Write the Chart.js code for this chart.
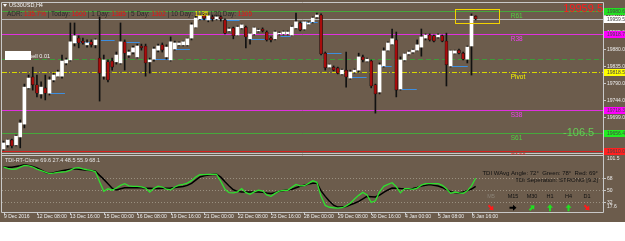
<!DOCTYPE html>
<html><head><meta charset="utf-8">
<script src="https://cdn.jsdelivr.net/npm/chart.js@4.4.1/dist/chart.umd.min.js"></script>
<style>
html,body{margin:0;padding:0;background:#fff;overflow:hidden}
#wrap{position:relative;width:625px;height:241px;background:#fff}
canvas{position:absolute;left:0;display:block}
#main{top:0}
#ind{top:155px}
</style></head><body>
<div id="wrap"><canvas id="main" width="625" height="155"></canvas><canvas id="ind" width="625" height="86"></canvas></div>
<script>
// ---------------- data ----------------
const symbolTitle = 'US30USD,H4';
const barIndex = Array.from({length:114}, (_, i) => i); // H4 bars, 9 Dec 2016 .. 6 Jan 2017 20:00

const openP = [
19615,19626,19639,19626,19647,19681,19777,19806,19785,19761,
19777,19763,19798,19808,19808,19843,19851,19896,19909,19901,
19891,19899,19891,19856,19808,19846,19848,19846,19843,19899,
19864,19872,19859,19888,19888,19846,19853,19877,19891,19859,
19851,19880,19891,19891,19891,19909,19938,19960,19970,19957,
19965,19960,19965,19957,19928,19936,19917,19936,19938,19907,
19920,19928,19933,19925,19909,19907,19920,19920,19920,19917,
19936,19949,19933,19946,19952,19965,19970,19869,19832,19832,
19830,19814,19824,19803,19819,19824,19859,19848,19848,19785,
19766,19835,19877,19893,19904,19774,19851,19867,19872,19877,
19885,19909,19917,19915,19912,19915,19901,19835,19869,19877,
19869,19853,19888,19967];
const highP = [
19636,19641,19641,19652,19692,19787,19811,19832,19811,19793,
19811,19806,19816,19824,19864,19856,19949,19949,19915,19909,
19904,19904,19907,19965,19864,19851,19856,19872,19949,19904,
19877,19888,19893,19893,19893,19856,19885,19893,19896,19891,
19912,19901,19899,19901,19909,19949,19968,19973,19973,19975,
19970,19970,19968,19960,19936,19938,19941,19946,19941,19922,
19938,19933,19936,19928,19912,19928,19925,19928,19928,19941,
19975,19952,19954,19952,19965,19975,19973,19872,19840,19835,
19832,19827,19872,19824,19827,19869,19864,19856,19851,19787,
19843,19883,19899,19933,19925,19859,19869,19875,19880,19904,
19933,19920,19920,19917,19920,19917,19922,19877,19877,19880,
19872,19888,19973,19968];
const lowP = [
19612,19620,19618,19623,19618,19671,19774,19771,19753,19750,
19745,19758,19793,19806,19803,19838,19848,19888,19883,19893,
19885,19885,19883,19742,19800,19793,19824,19840,19840,19824,
19858,19867,19856,19877,19808,19816,19848,19872,19872,19853,
19848,19877,19888,19888,19888,19904,19936,19957,19957,19952,
19954,19957,19954,19920,19925,19907,19915,19933,19883,19893,
19917,19925,19925,19901,19899,19904,19917,19917,19917,19915,
19933,19928,19930,19944,19949,19962,19864,19824,19830,19822,
19814,19811,19779,19800,19816,19819,19846,19846,19777,19710,
19761,19832,19875,19891,19753,19771,19848,19864,19869,19875,
19861,19904,19901,19899,19909,19899,19782,19832,19867,19867,
19851,19843,19811,19957];
const closeP = [
19631,19639,19623,19649,19684,19779,19803,19785,19763,19779,
19763,19798,19811,19819,19848,19851,19899,19915,19896,19896,
19896,19891,19904,19816,19851,19798,19832,19864,19899,19869,
19872,19883,19888,19883,19843,19851,19880,19888,19877,19885,
19899,19896,19896,19899,19907,19944,19962,19968,19962,19968,
19960,19965,19960,19922,19933,19915,19938,19944,19912,19920,
19936,19930,19928,19904,19904,19925,19922,19925,19925,19938,
19952,19930,19952,19949,19962,19970,19867,19830,19838,19824,
19816,19824,19806,19819,19824,19859,19851,19853,19782,19761,
19838,19875,19896,19907,19771,19851,19867,19872,19877,19891,
19912,19917,19904,19901,19917,19901,19838,19875,19875,19869,
19853,19885,19967,19959.5];

// TDI indicator (green price line, black signal line)
const tdiGreen = [
84.8,83,81.5,82,84.8,87.4,86.8,85,81.8,79.6,
77.2,75.2,76,77,77.5,78,80.3,83.3,84,82.3,
80.9,80,77.8,63,48.5,52.4,50.3,53.5,57.5,60,
56.8,56,56,55.4,53.5,47.5,53,56.3,55,51.7,
50.9,55,58,58.9,60.8,64.6,70,73.6,73.7,73.9,
74,74,63.5,51.5,46.5,46.3,47.8,52.6,46.6,44.2,
47.8,50.3,49.3,43.3,41,45.5,48.8,50,50,54.5,
59,56.8,57,60.5,64.3,62,41,27.5,24.7,24,
23.5,24,26.8,30.8,37,42.5,47,43.3,32,34.3,
47.8,56,59,61.4,55.4,46.3,52.6,52.6,51.5,53.5,
57.8,60,60,60,60,57.5,52.3,45.5,47.5,46.1,
45.7,49.3,56.8,68.1];
const tdiSignal = [
85,84.8,84.5,85.8,87,88.4,87.2,85.7,83.5,80.5,
77.2,75.2,76.3,77.8,79.3,80.6,81.5,82.4,81.8,81,
80.3,79.6,78.8,72.5,66.5,60,53.3,50.6,52.3,53.9,
54,54,54,53.8,53.3,53,52.7,52.8,53,53.3,
53.6,54.2,55,55.7,57.5,60.4,65.3,70,71.8,73.1,
73.6,74,69.8,63,56.5,50.9,48.5,47.5,47.5,47.5,
47.5,47.5,47,46,45.4,46.4,48.8,49.7,50.6,51.8,
54,56.2,57.8,59.5,60.5,61,49.3,41,33.7,27.8,
25,25.3,25.9,28.4,30.8,33.5,37.4,41,40.6,40.1,
43,47,50.6,53.5,53,52.7,52.6,52.6,52.8,54.5,
56.6,57.5,58.6,57.5,56.5,54.4,51.2,48.1,46.9,46.1,
47.5,49.6,52,55.9];
const tdiLevels = [68, 50, 32];
const tdiAxisLabels = [101.5, 68, 50, 32, 17.6];
const tdiTitle = 'TDI-RT-Clone 69.6 27.4 48.5 55.9 68.1';
const tdiAngleText = 'TDI WAvg Angle: 72°  Green: 78°  Red: 69°';
const tdiSepText = 'TDI Seperation: STRONG [9.2]';
const tfNames = ['M5','M15','M30','H1','H4','D1'];
const tfAngles = [-45, 0, 45, 90, 90, -45];

// pivot levels
const levelNames = ['R61','R38','Pivot','S38','S61','S100'];
const levelValues = [19980.6, 19918.7, 19818.5, 19718.3, 19656.4, 19610.0];
const bidPrice = 19959.5;
const dailyOpenLevel = 19853.5;
const pipsToS61 = '-106.5';

// blue order lines (start bar, end bar, price)
const blueStart = [11.1,17.3,23.3,29.3,36.2,41.0,47.0,52.9,58.9,66.3,71.4,77.3,83.3,90.0,95.3,107.3];
const blueEnd   = [14.7,21.1,26.6,32.6,39.8,44.6,50.1,56.5,62.5,68.7,75.2,80.9,86.9,92.9,98.9,111.1];
const bluePrice = [19763,19899,19904,19899,19854,19880,19959,19957,19907,19915,19952,19869,19806,19835,19774,19835];

// highlight box (bars, prices)
const boxBars = [108.05, 118.6];
const boxPrices = [19949, 19986];

// axis ticks
const priceTicks = [19970, 19925, 19880, 19835, 19790, 19744, 19699, 19654];
const timeTickBars = [0,8,16,24,32,40,48,56,64,72,80,88,96,104,112];
const timeTickLabels = ['9 Dec 2016','12 Dec 08:00','13 Dec 16:00','15 Dec 00:00','16 Dec 08:00','19 Dec 16:00','21 Dec 00:00','22 Dec 08:00','23 Dec 16:00','28 Dec 00:00','29 Dec 08:00','30 Dec 16:00','4 Jan 00:00','5 Jan 08:00','6 Jan 16:00'];

// ADR header
const adrPct = '135.7%';
const adrNames = ['Today','1 Day','5 Day','10 Day','20 Day'];
const adrValues = [1600, 1385, 1302, 1135, 1305];

// ---------------- style ----------------
const BG = '#6c5c4c';
const FRAME = '#c8c8c8';
const FONT = '"Liberation Sans", Arial, sans-serif';
const X_MIN = -0.36, X_MAX = 143.47;
const P_MIN = 19604.4, P_MAX = 20001.9;
const levelColors = ['#46a83c','#e030e0','#d8d800','#e030e0','#46a83c','#d42020'];
const labelColors = ['#50d040','#f040f0','#f4f400','#f040f0','#50d040','#e83030'];
const levelBoxColors = ['#22e022','#ff00ff','#ffff00','#ff00ff','#22ee22','#ff2020'];
const levelDash = [[],[],[5,2,1,2],[],[],[]];

function f(px){ return px + 'px ' + FONT; }

const mainDecor = {
  id: 'mainDecor',
  beforeDraw(chart){
    const ctx = chart.ctx;
    ctx.save();
    ctx.fillStyle = BG;
    ctx.fillRect(0, 0, chart.width, chart.height);
    ctx.restore();
  },
  beforeDatasetsDraw(chart){
    const {ctx, chartArea:a, scales:{x, y}} = chart;
    ctx.save();
    ctx.lineWidth = 1;
    const py = v => Math.round(y.getPixelForValue(v)) + 0.5;
    const hl = (v, color, dash) => {
      ctx.strokeStyle = color; ctx.setLineDash(dash || []);
      ctx.beginPath(); ctx.moveTo(a.left, py(v)); ctx.lineTo(a.right, py(v)); ctx.stroke();
    };
    hl(dailyOpenLevel, '#3f9a3a', [5,3]);
    levelValues.forEach((v, i) => hl(v, levelColors[i], levelDash[i]));
    hl(bidPrice, '#b8b8b8');
    ctx.setLineDash([]);
    // blue order lines
    ctx.strokeStyle = '#3d8ee0';
    blueStart.forEach((s, i) => {
      const yy = py(bluePrice[i]);
      ctx.beginPath(); ctx.moveTo(x.getPixelForValue(s), yy); ctx.lineTo(x.getPixelForValue(blueEnd[i]), yy); ctx.stroke();
    });
    ctx.restore();
  },
  afterDatasetsDraw(chart){
    const {ctx, chartArea:a, scales:{x, y}} = chart;
    ctx.save();
    ctx.textBaseline = 'middle';
    // frame
    ctx.strokeStyle = FRAME; ctx.lineWidth = 1;
    ctx.beginPath();
    ctx.moveTo(a.left - 0.5, a.top - 0.5); ctx.lineTo(a.right + 0.5, a.top - 0.5);
    ctx.moveTo(a.left - 0.5, a.top - 0.5); ctx.lineTo(a.left - 0.5, chart.height);
    ctx.moveTo(a.right + 0.5, a.top - 0.5); ctx.lineTo(a.right + 0.5, chart.height);
    ctx.moveTo(a.left - 0.5, a.bottom + 0.5); ctx.lineTo(a.right + 0.5, a.bottom + 0.5);
    ctx.stroke();
    // highlight box
    ctx.strokeStyle = '#f2d200';
    const bx0 = Math.round(x.getPixelForValue(boxBars[0])) + 0.5, bx1 = Math.round(x.getPixelForValue(boxBars[1])) + 0.5;
    const by0 = Math.round(y.getPixelForValue(boxPrices[1])) + 0.5, by1 = Math.round(y.getPixelForValue(boxPrices[0])) + 0.5;
    ctx.strokeRect(bx0, by0, bx1 - bx0, by1 - by0);
    // title
    ctx.fillStyle = '#f4f4f4';
    ctx.beginPath(); ctx.moveTo(3, 4); ctx.lineTo(7, 4); ctx.lineTo(5, 7); ctx.closePath(); ctx.fill();
    ctx.font = f(5.5); ctx.textAlign = 'left';
    ctx.fillText(symbolTitle, 9, 5.5);
    // ADR header
    const dark = '#2a2a2a', red = '#ee1111', yel = '#ffee00';
    const segs = [['ADR: ', dark], [adrPct, red]];
    adrNames.forEach((n, i) => { segs.push([' | ' + n + ': ', dark]); segs.push([String(adrValues[i]), n === '10 Day' ? yel : red]); });
    ctx.font = f(7.5);
    const tot = segs.reduce((s, g) => s + ctx.measureText(g[0]).width, 0);
    ctx.save(); ctx.translate(7, 13.5); ctx.scale(245 / tot, 1);
    let cx = 0;
    segs.forEach(([t, c]) => { ctx.fillStyle = c; ctx.fillText(t, cx, 0); cx += ctx.measureText(t).width; });
    ctx.restore();
    // sell button
    ctx.font = f(5.5); ctx.fillStyle = '#f4f4f4'; ctx.textAlign = 'right';
    ctx.fillText('sell 0.01', 50, 56);
    ctx.fillStyle = '#ffffff'; ctx.fillRect(5, 51, 26, 9);
    // big bid
    ctx.font = f(11); ctx.fillStyle = '#ff1a1a'; ctx.textAlign = 'right';
    ctx.fillText(bidPrice.toFixed(1), 603, 9);
    ctx.textAlign = 'left'; ctx.fillStyle = '#66cc55';
    ctx.fillText(pipsToS61, 563, y.getPixelForValue(levelValues[4]));
    // level names
    ctx.font = f(6.5);
    levelNames.forEach((n, i) => {
      ctx.fillStyle = labelColors[i];
      ctx.fillText(n, x.getPixelForValue(121.4), y.getPixelForValue(levelValues[i]) + 5);
    });
    // right price axis
    ctx.font = f(5); ctx.textAlign = 'left'; ctx.fillStyle = '#ececec'; ctx.strokeStyle = FRAME;
    priceTicks.forEach(v => {
      const yy = Math.round(y.getPixelForValue(v)) + 0.5;
      ctx.beginPath(); ctx.moveTo(a.right, yy); ctx.lineTo(a.right + 3, yy); ctx.stroke();
      ctx.fillText(v.toFixed(1), a.right + 4, yy);
    });
    const box = (v, bg, fg) => {
      const yy = Math.round(y.getPixelForValue(v));
      ctx.fillStyle = bg; ctx.fillRect(a.right + 1, yy - 3, 22, 7);
      ctx.fillStyle = fg; ctx.fillText(v.toFixed(1), a.right + 4, yy + 0.5);
    };
    levelValues.forEach((v, i) => box(v, levelBoxColors[i], '#444'));
    box(bidPrice, '#ffffff', '#444');
    ctx.restore();
  }
};

new Chart(document.getElementById('main'), {
  type: 'bar',
  data: {
    datasets: [
      { label: 'body', data: barIndex.map(i => ({x: i, y: [openP[i], closeP[i]]})),
        backgroundColor: barIndex.map(i => closeP[i] >= openP[i] ? '#ffffff' : '#a80c0c'),
        borderColor: '#111', borderWidth: barIndex.map(i => closeP[i] >= openP[i] ? 0 : 0.6), borderSkipped: false,
        barThickness: 3, grouped: false },
      { label: 'wick', data: barIndex.map(i => ({x: i, y: [lowP[i], highP[i]]})),
        backgroundColor: '#111', barThickness: 1, grouped: false }
    ]
  },
  options: {
    responsive: false, animation: false, devicePixelRatio: 1,
    layout: { padding: { left: 2, right: 22, top: 3, bottom: 2 } },
    plugins: { legend: { display: false }, tooltip: { enabled: false } },
    scales: {
      x: { type: 'linear', min: X_MIN, max: X_MAX, offset: false, display: false },
      y: { type: 'linear', min: P_MIN, max: P_MAX, display: false }
    }
  },
  plugins: [mainDecor]
});

function arrow(ctx, cx, cy, deg, color){
  ctx.save(); ctx.translate(cx, cy); ctx.rotate(-deg * Math.PI / 180);
  ctx.fillStyle = color; ctx.beginPath();
  ctx.moveTo(-3.5, -1); ctx.lineTo(0, -1); ctx.lineTo(0, -3); ctx.lineTo(3.5, 0); ctx.lineTo(0, 3); ctx.lineTo(0, 1); ctx.lineTo(-3.5, 1);
  ctx.closePath(); ctx.fill(); ctx.restore();
}

const indDecor = {
  id: 'indDecor',
  beforeDraw(chart){
    const {ctx, chartArea:a} = chart;
    ctx.save();
    ctx.fillStyle = BG; ctx.fillRect(0, 0, chart.width, a.bottom + 10);
    ctx.fillStyle = '#ffffff'; ctx.fillRect(0, a.bottom + 10, chart.width, chart.height);
    ctx.restore();
  },
  beforeDatasetsDraw(chart){
    const {ctx, chartArea:a, scales:{y}} = chart;
    ctx.save();
    ctx.strokeStyle = '#9a9080'; ctx.setLineDash([1, 2]); ctx.lineWidth = 1;
    tdiLevels.forEach(v => {
      const yy = Math.round(y.getPixelForValue(v)) + 0.5;
      ctx.beginPath(); ctx.moveTo(a.left, yy); ctx.lineTo(a.right, yy); ctx.stroke();
    });
    ctx.restore();
  },
  afterDatasetsDraw(chart){
    const {ctx, chartArea:a, scales:{x, y}} = chart;
    ctx.save();
    ctx.strokeStyle = FRAME; ctx.lineWidth = 1;
    ctx.beginPath();
    ctx.moveTo(a.left - 0.5, a.top - 0.5); ctx.lineTo(a.right + 0.5, a.top - 0.5);
    ctx.moveTo(a.left - 0.5, 0); ctx.lineTo(a.left - 0.5, a.bottom + 0.5);
    ctx.moveTo(a.right + 0.5, 0); ctx.lineTo(a.right + 0.5, a.bottom + 0.5);
    ctx.moveTo(a.left - 0.5, a.bottom + 0.5); ctx.lineTo(a.right + 0.5, a.bottom + 0.5);
    ctx.stroke();
    ctx.textBaseline = 'middle';
    // y labels
    ctx.font = f(5); ctx.fillStyle = '#ececec'; ctx.textAlign = 'left';
    tdiAxisLabels.forEach(v => {
      let yy = y.getPixelForValue(v);
      if (tdiLevels.includes(v)) { ctx.beginPath(); ctx.moveTo(a.right, Math.round(yy) + 0.5); ctx.lineTo(a.right + 3, Math.round(yy) + 0.5); ctx.stroke(); }
      yy = Math.min(Math.max(yy, a.top + 3), a.bottom - 5);
      ctx.fillText(String(v), a.right + 4, yy);
    });
    // x labels
    ctx.textBaseline = 'top';
    timeTickBars.forEach((b, i) => {
      const xx = Math.round(x.getPixelForValue(b)) + 0.5;
      ctx.beginPath(); ctx.moveTo(xx, a.bottom); ctx.lineTo(xx, a.bottom + 3); ctx.stroke();
      ctx.fillText(timeTickLabels[i], Math.max(1, xx - 0.5), a.bottom + 2);
    });
    // texts
    ctx.textBaseline = 'middle';
    ctx.font = f(5.5); ctx.fillStyle = '#e4e4e4'; ctx.textAlign = 'left';
    ctx.fillText(tdiTitle, 5, a.top + 4.7);
    ctx.font = f(6); ctx.fillStyle = '#111'; ctx.textAlign = 'right';
    ctx.fillText(tdiAngleText, 598, a.top + 17);
    ctx.fillText(tdiSepText, 598, a.top + 24);
    const tfX = [491, 513, 532, 550, 568.5, 587];
    ctx.textAlign = 'center'; ctx.font = f(5.5);
    tfNames.forEach((n, i) => {
      ctx.fillStyle = i === 0 ? '#8c8478' : '#111';
      ctx.fillText(n, tfX[i], a.top + 40);
      const col = tfAngles[i] < 0 ? '#ff1a1a' : (tfAngles[i] === 0 ? '#000' : '#22e022');
      arrow(ctx, tfX[i], a.top + 51.7, tfAngles[i], col);
    });
    ctx.restore();
  }
};

new Chart(document.getElementById('ind'), {
  type: 'line',
  data: {
    datasets: [
      { label: 'TDI green', data: barIndex.map(i => ({x: i, y: tdiGreen[i]})), borderColor: '#2fe02f', borderWidth: 1.3, pointRadius: 0, tension: 0 },
      { label: 'TDI signal', data: barIndex.map(i => ({x: i, y: tdiSignal[i]})), borderColor: '#000000', borderWidth: 1.5, pointRadius: 0, tension: 0 }
    ]
  },
  options: {
    responsive: false, animation: false, devicePixelRatio: 1,
    layout: { padding: { left: 2, right: 22, top: 1, bottom: 29 } },
    plugins: { legend: { display: false }, tooltip: { enabled: false } },
    scales: {
      x: { type: 'linear', min: X_MIN, max: X_MAX, display: false },
      y: { type: 'linear', min: 17.6, max: 101.5, display: false }
    }
  },
  plugins: [indDecor]
});
</script>
</body></html>
